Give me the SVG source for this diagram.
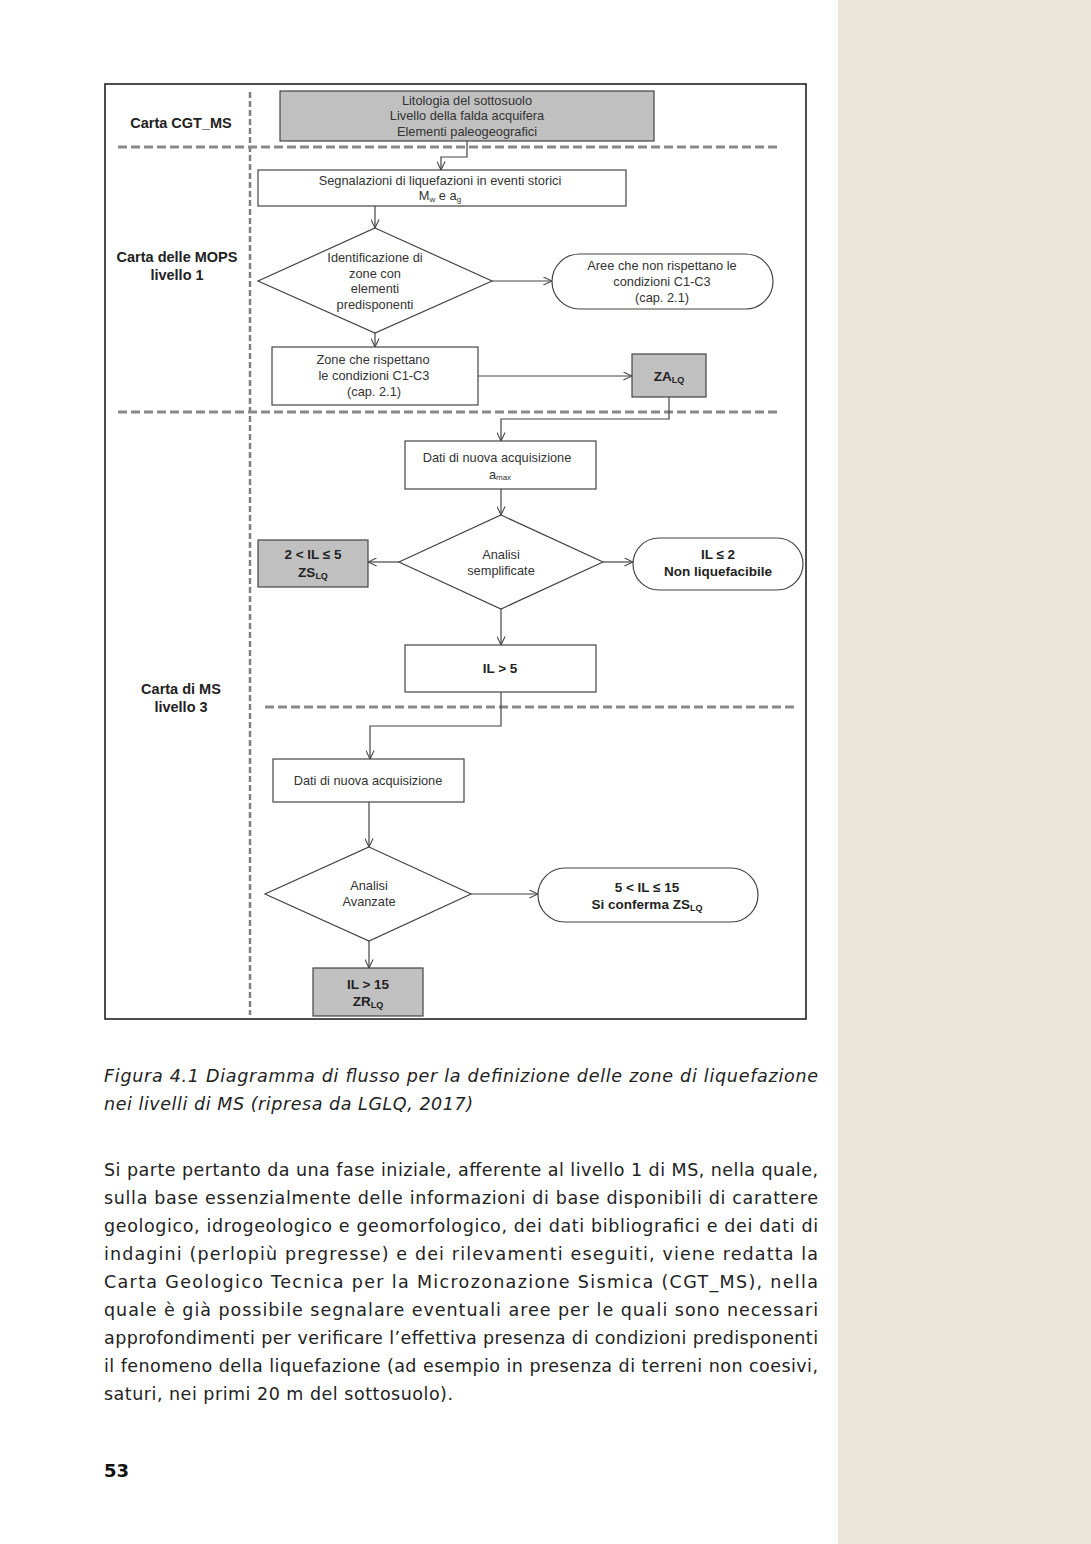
<svg xmlns="http://www.w3.org/2000/svg" width="1091" height="1544" viewBox="0 0 1091 1544">
<style>
.t{font-family:"Liberation Sans",Arial,sans-serif;font-size:12.8px;fill:#333;text-anchor:middle}
.b{font-family:"Liberation Sans",Arial,sans-serif;font-size:13.5px;font-weight:bold;fill:#222;text-anchor:middle}
.lab{font-family:"Liberation Sans",Arial,sans-serif;font-size:14.5px;font-weight:bold;fill:#222;text-anchor:middle}
.box{fill:#fff;stroke:#444;stroke-width:1.2}
.gbox{fill:#c0c0c0;stroke:#444;stroke-width:1.2}
.con{fill:none;stroke:#444;stroke-width:1.2}
.dash{fill:none;stroke:#8a8a8a;stroke-width:3;stroke-dasharray:9 4}
.vdash{fill:none;stroke:#808080;stroke-width:2.5;stroke-dasharray:6 3}
.body{font-family:"DejaVu Sans",Verdana,sans-serif;font-size:17.5px;fill:#222}
.cap{font-family:"DejaVu Sans",Verdana,sans-serif;font-size:17.5px;font-style:italic;fill:#222}
</style>
<defs>
<marker id="arr" viewBox="0 0 10 10" refX="9.5" refY="5" markerWidth="9" markerHeight="9" markerUnits="userSpaceOnUse" orient="auto">
<path d="M0,0.5 L9.5,5 L0,9.5" fill="none" stroke="#444" stroke-width="1.2"/>
</marker>
</defs>
<rect x="0" y="0" width="1091" height="1544" fill="#ffffff"/>
<rect x="838" y="0" width="253" height="1544" fill="#ebe5d9"/>

<g id="frame">
<rect x="105" y="84" width="701" height="935" fill="#fff" stroke="#222" stroke-width="1.6"/>
<line class="vdash" x1="250" y1="92" x2="250" y2="1015"/>
<line class="dash" x1="118" y1="147" x2="780" y2="147"/>
<line class="dash" x1="118" y1="412" x2="780" y2="412"/>
<line class="dash" x1="265" y1="707" x2="795" y2="707"/>
<text class="lab" x="181" y="128">Carta  CGT_MS</text>
<text class="lab" x="177" y="262">Carta delle MOPS</text>
<text class="lab" x="177" y="280">livello 1</text>
<text class="lab" x="181" y="694">Carta di MS</text>
<text class="lab" x="181" y="712">livello 3</text>
</g>

<g id="connectors">
<polyline class="con" points="467,141 467,157 441,157 441,170" marker-end="url(#arr)"/>
<line class="con" x1="375" y1="206" x2="375" y2="228" marker-end="url(#arr)"/>
<line class="con" x1="492" y1="281" x2="552" y2="281" marker-end="url(#arr)"/>
<line class="con" x1="375" y1="333" x2="375" y2="347" marker-end="url(#arr)"/>
<line class="con" x1="478" y1="376" x2="632" y2="376" marker-end="url(#arr)"/>
<polyline class="con" points="669,397 669,419 501,419 501,441" marker-end="url(#arr)"/>
<line class="con" x1="501" y1="489" x2="501" y2="515" marker-end="url(#arr)"/>
<line class="con" x1="399" y1="562" x2="368" y2="562" marker-end="url(#arr)"/>
<line class="con" x1="603" y1="562" x2="633" y2="562" marker-end="url(#arr)"/>
<line class="con" x1="501" y1="609" x2="501" y2="645" marker-end="url(#arr)"/>
<polyline class="con" points="501,692 501,726 370,726 370,759" marker-end="url(#arr)"/>
<line class="con" x1="369" y1="802" x2="369" y2="847" marker-end="url(#arr)"/>
<line class="con" x1="471" y1="894" x2="538" y2="894" marker-end="url(#arr)"/>
<line class="con" x1="369" y1="941" x2="369" y2="968" marker-end="url(#arr)"/>
</g>

<g id="n-litologia">
<rect class="gbox" x="280" y="91" width="374" height="50"/>
<text class="t" x="467" y="105">Litologia del sottosuolo</text>
<text class="t" x="467" y="120">Livello della falda acquifera</text>
<text class="t" x="467" y="136">Elementi paleogeografici</text>
</g>

<g id="n-segnalazioni">
<rect class="box" x="258" y="170" width="368" height="36"/>
<text class="t" x="440" y="185">Segnalazioni di liquefazioni in eventi storici</text>
<text class="t" x="440" y="200">M<tspan font-size="8" dy="2">w</tspan><tspan dy="-2"> e a</tspan><tspan font-size="8" dy="2">g</tspan></text>
</g>

<g id="n-identificazione">
<polygon class="box" points="375,228 492,281 375,333 258,281"/>
<text class="t" x="375" y="262">Identificazione di</text>
<text class="t" x="375" y="278">zone con</text>
<text class="t" x="375" y="293">elementi</text>
<text class="t" x="375" y="309">predisponenti</text>
</g>

<g id="n-aree">
<rect class="box" x="552" y="254" width="221" height="55" rx="27.5" ry="27.5"/>
<text class="t" x="662" y="270">Aree che non rispettano  le</text>
<text class="t" x="662" y="286">condizioni  C1-C3</text>
<text class="t" x="662" y="302">(cap. 2.1)</text>
</g>

<g id="n-zone">
<rect class="box" x="272" y="347" width="206" height="58"/>
<text class="t" x="373" y="364">Zone  che rispettano</text>
<text class="t" x="374" y="380">le condizioni  C1-C3</text>
<text class="t" x="374" y="396">(cap. 2.1)</text>
</g>

<g id="n-zalq">
<rect class="gbox" x="632" y="354" width="74" height="43"/>
<text class="b" x="669" y="381">ZA<tspan font-size="9" dy="2">LQ</tspan></text>
</g>

<g id="n-dati1">
<rect class="box" x="405" y="441" width="191" height="48"/>
<text class="t" x="497" y="462">Dati di nuova  acquisizione</text>
<text class="t" x="500" y="479">a<tspan font-size="8" dy="1">max</tspan></text>
</g>

<g id="n-semplificate">
<polygon class="box" points="501,515 603,562 501,609 399,562"/>
<text class="t" x="501" y="559">Analisi</text>
<text class="t" x="501" y="575">semplificate</text>
</g>

<g id="n-zslq">
<rect class="gbox" x="258" y="540" width="110" height="47"/>
<text class="b" x="313" y="559">2 &lt; IL ≤ 5</text>
<text class="b" x="313" y="577">ZS<tspan font-size="9" dy="2">LQ</tspan></text>
</g>

<g id="n-nonliq">
<rect class="box" x="633" y="538" width="170" height="52" rx="26" ry="26"/>
<text class="b" x="718" y="559">IL ≤ 2</text>
<text class="b" x="718" y="576">Non liquefacibile</text>
</g>

<g id="n-il5">
<rect class="box" x="405" y="645" width="191" height="47"/>
<text class="b" x="500" y="673">IL &gt; 5</text>
</g>

<g id="n-dati2">
<rect class="box" x="273" y="759" width="191" height="43"/>
<text class="t" x="368" y="785">Dati di nuova  acquisizione</text>
</g>

<g id="n-avanzate">
<polygon class="box" points="369,847 471,894 369,941 265,894"/>
<text class="t" x="369" y="890">Analisi</text>
<text class="t" x="369" y="906">Avanzate</text>
</g>

<g id="n-conferma">
<rect class="box" x="538" y="868" width="220" height="54" rx="27" ry="27"/>
<text class="b" x="647" y="892">5 &lt; IL ≤ 15</text>
<text class="b" x="647" y="909">Si conferma ZS<tspan font-size="9" dy="2">LQ</tspan></text>
</g>

<g id="n-zrlq">
<rect class="gbox" x="313" y="968" width="110" height="48"/>
<text class="b" x="368" y="989">IL &gt; 15</text>
<text class="b" x="368" y="1006">ZR<tspan font-size="9" dy="2">LQ</tspan></text>
</g>

<g id="caption">
<text class="cap" x="104" y="1082" textLength="714" lengthAdjust="spacing">Figura 4.1 Diagramma di flusso per la definizione delle zone di liquefazione</text>
<text class="cap" x="104" y="1110" textLength="369" lengthAdjust="spacing">nei livelli di MS (ripresa da LGLQ, 2017)</text>
</g>

<g id="paragraph">
<text class="body" x="104" y="1176" textLength="714" lengthAdjust="spacing">Si parte pertanto da una fase iniziale, afferente al livello 1 di MS, nella quale,</text>
<text class="body" x="104" y="1204" textLength="714" lengthAdjust="spacing">sulla base essenzialmente delle informazioni di base disponibili di carattere</text>
<text class="body" x="104" y="1232" textLength="714" lengthAdjust="spacing">geologico, idrogeologico e geomorfologico, dei dati bibliografici e dei dati di</text>
<text class="body" x="104" y="1260" textLength="714" lengthAdjust="spacing">indagini (perlopiù pregresse) e dei rilevamenti eseguiti, viene redatta la</text>
<text class="body" x="104" y="1288" textLength="714" lengthAdjust="spacing">Carta Geologico Tecnica per la Microzonazione Sismica (CGT_MS), nella</text>
<text class="body" x="104" y="1316" textLength="714" lengthAdjust="spacing">quale è già possibile segnalare eventuali aree per le quali sono necessari</text>
<text class="body" x="104" y="1344" textLength="714" lengthAdjust="spacing">approfondimenti per verificare l’effettiva presenza di condizioni predisponenti</text>
<text class="body" x="104" y="1372" textLength="714" lengthAdjust="spacing">il fenomeno della liquefazione (ad esempio in presenza di terreni non coesivi,</text>
<text class="body" x="104" y="1400" textLength="349" lengthAdjust="spacing">saturi, nei primi 20 m del sottosuolo).</text>
</g>

<text x="104" y="1477" font-family="'DejaVu Sans',Verdana,sans-serif" font-size="18" font-weight="bold" fill="#111">53</text>
</svg>
